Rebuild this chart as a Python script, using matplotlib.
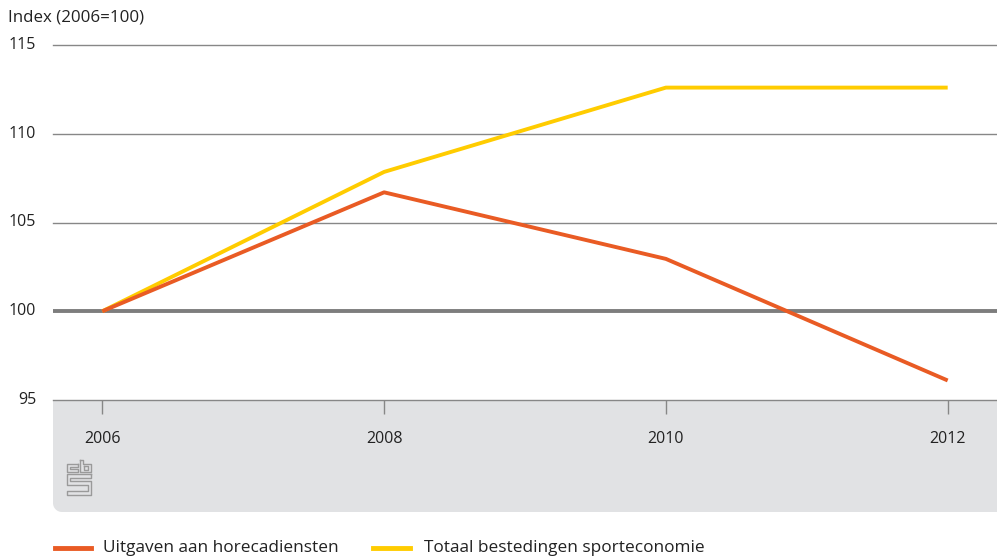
import numpy as np
import matplotlib.pyplot as plt
from matplotlib.patches import Polygon

years = [2006, 2008, 2010, 2012]
horeca = [100.0, 106.7, 102.95, 96.1]
totaal = [100.0, 107.85, 112.6, 112.6]
yticks = [95, 100, 105, 110, 115]

orange = '#e95b24'
yellow = '#ffcc00'
grey = '#878787'
txt = '#222222'

plt.rcParams['font.family'] = ['Open Sans', 'DejaVu Sans']

fig = plt.figure(figsize=(9.97, 5.59), dpi=100)
W, H = 997, 559


def px(pts):
    # pixel coords (from top-left) -> figure fraction
    return [(x / W, 1 - y / H) for x, y in pts]


# grey panel under the x axis, bottom-left corner rounded
r = 9
arc = [(53 + r - r * np.cos(t), 512 - r + r * np.sin(t)) for t in np.linspace(0, np.pi / 2, 12)]
panel_pts = [(53, 400), (997, 400), (997, 512)] + sorted(arc, key=lambda p: p[0], reverse=True)
fig.patches.append(Polygon(px(panel_pts), closed=True, transform=fig.transFigure,
                           facecolor='#e1e2e4', edgecolor='none', zorder=-1))

ax = fig.add_axes([53 / W, 1 - 400 / H, 1 - 53 / W, (400 - 45) / H])
ax.set_xlim(2005.65, 2012.35)
ax.set_ylim(95, 115)

for y in yticks:
    if y == 100:
        ax.axhline(y, color='#7d7d7d', lw=2.8, zorder=2)
    else:
        ax.axhline(y, color=grey, lw=1.0, zorder=1, clip_on=False)
    ax.text(-0.018, y, str(y), transform=ax.get_yaxis_transform(), ha='right', va='center',
            fontsize=11.5, color=txt)

ax.plot(years, totaal, color=yellow, lw=2.8, zorder=3, solid_capstyle='butt')
ax.plot(years, horeca, color=orange, lw=2.8, zorder=4, solid_capstyle='butt')

for s in ax.spines.values():
    s.set_visible(False)
ax.set_xticks(years)
ax.set_xticklabels([str(y) for y in years], fontsize=11.5, color=txt)
ax.tick_params(axis='x', length=10, width=1, color=grey, pad=12)
ax.tick_params(axis='y', left=False, labelleft=False)
ax.patch.set_alpha(0)

fig.text(8 / W, 1 - 18 / H, 'Index (2006=100)', fontsize=12.2, color=txt, va='center')

# cbs logo (simplified)
lc = '#9a9a9a'
logo = [
    [(78, 464), (67, 464), (67, 472), (78, 472), (78, 469), (70, 469), (70, 467), (78, 467), (78, 464)],
    [(80, 460), (83, 460), (83, 464), (91, 464), (91, 472), (80, 472), (80, 460)],
    [(84, 466), (88, 466), (88, 470), (84, 470), (84, 466)],
    [(91, 474), (67, 474), (67, 485), (88, 485), (88, 491), (67, 491), (67, 495), (91, 495),
     (91, 481), (70, 481), (70, 478), (91, 478), (91, 474)],
]
for pts in logo:
    xs, ys = zip(*px(pts))
    fig.add_artist(plt.Line2D(xs, ys, color=lc, lw=1.0))

# legend
fig.add_artist(plt.Line2D([55 / W, 91 / W], [1 - 548 / H] * 2, color=orange, lw=3.5))
fig.text(103 / W, 1 - 548 / H, 'Uitgaven aan horecadiensten', fontsize=12.4, color=txt, va='center')
fig.add_artist(plt.Line2D([373 / W, 410 / W], [1 - 548 / H] * 2, color=yellow, lw=3.5))
fig.text(424 / W, 1 - 548 / H, 'Totaal bestedingen sporteconomie', fontsize=12.4, color=txt, va='center')

fig.savefig('out.png', dpi=100)
